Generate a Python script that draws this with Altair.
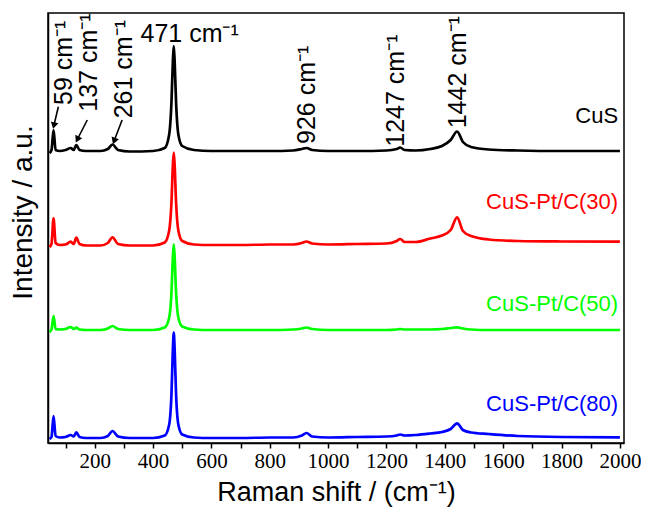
import altair as alt
import pandas as pd

# Raman shift knots (cm^-1)
X_KNOTS = [45, 52, 59, 66, 80, 100, 118, 128, 137, 148, 170, 220, 245, 261, 280, 320, 400,
           440, 455, 463, 468, 471, 474, 479, 487, 500, 540, 600, 700, 800, 880, 910, 926,
           945, 1000, 1100, 1200, 1235, 1247, 1262, 1300, 1350, 1390, 1420, 1442, 1462,
           1490, 1550, 1650, 1800, 2000]

# Intensities (a.u., stacked offsets included)
CUS = [290, 293, 313, 293, 292, 293, 295, 293, 298, 293, 292, 292, 294, 298.5, 293, 291.5, 292,
       295, 308, 340, 382, 397, 382, 340, 308, 297, 293, 292, 292, 292, 292.5, 294, 295,
       293, 292, 292, 292.5, 294, 295.5, 293, 292.5, 294, 297, 303, 311.5, 301,
       296, 293.5, 292.5, 292, 292]
CUS_PT30 = [196, 199, 224.7, 200, 198, 198.5, 201.3, 199, 205.3, 199, 197.5, 197.5, 200, 205.7, 199, 197.5, 197.5,
            200.5, 212, 240, 278, 290.3, 278, 240, 212, 202, 198.5, 198, 198, 198.5, 198.5, 200, 201.5,
            199.5, 198.5, 199, 199.5, 202, 204, 201, 201, 204.5, 207.5, 213, 225.7, 212,
            207, 203.5, 202, 201.5, 201.3]
CUS_PT50 = [111, 113.5, 127, 114, 113.5, 114, 116, 114, 115.3, 113.5, 113, 113, 114.5, 117, 114, 113, 113,
            115.5, 125, 150, 186, 198.7, 186, 150, 125, 116.5, 113.5, 113, 113, 113, 113.5, 114.5, 115.5,
            114, 113, 113, 113, 113.5, 114, 113.5, 113.5, 113.5, 114, 115, 115.7, 114.5,
            113.5, 113, 113, 113, 113]
CUS_PT80 = [4, 6, 27, 7, 5.5, 6, 8, 6.5, 10.7, 6, 5, 5, 7, 12, 6.5, 5, 5,
            7.5, 18, 48, 94, 110.3, 94, 48, 18, 8.5, 5.5, 5, 5, 5.5, 5.5, 7.5, 10,
            6.5, 5.5, 6, 6.5, 7.5, 8.5, 7.5, 8, 9.5, 11, 14, 19.7, 13,
            10.5, 9, 7, 6, 5.7]

SERIES = ["CuS", "CuS-Pt/C(30)", "CuS-Pt/C(50)", "CuS-Pt/C(80)"]
COLORS = ["#000000", "#ff0000", "#00ff00", "#0000ff"]
SERIES_VALUES = [CUS, CUS_PT30, CUS_PT50, CUS_PT80]

# x ticks
TICK_VALUES = list(range(100, 2001, 100))

# series label anchors
LABEL_X = [1994, 1994, 1994, 1994]
LABEL_Y = [320.3, 233.7, 132.3, 32]

# peak annotations (rotated)
PEAK_TEXT = ["59 cm⁻¹", "137 cm⁻¹", "261 cm⁻¹", "926 cm⁻¹", "1247 cm⁻¹", "1442 cm⁻¹"]
PEAK_X = [95, 180.4, 300, 928.6, 1232.7, 1444.5]
PEAK_Y = [338, 331.3, 324.7, 299, 296.3, 314.7]
# main peak annotation (horizontal)
MAIN_TEXT = ["471 cm⁻¹"]
MAIN_X = [357]
MAIN_Y = [401.3]

# arrows
ARROW_X = [75.5, 174.6, 294]
ARROW_Y = [336.3, 323, 323]
ARROW_X2 = [60.1, 140.4, 266.5]
ARROW_Y2 = [317.4, 303.5, 302.0]
ARROW_ANGLE = [192.8, 206.5, 200.4]

rows = []
for name, vals in zip(SERIES, SERIES_VALUES):
    for x, y in zip(X_KNOTS, vals):
        rows.append({"shift": x, "intensity": y, "series": name})
df = pd.DataFrame(rows)

labels_df = pd.DataFrame({"x": LABEL_X, "y": LABEL_Y, "text": SERIES, "series": SERIES})
peaks_df = pd.DataFrame({"x": PEAK_X, "y": PEAK_Y, "text": PEAK_TEXT})
main_df = pd.DataFrame({"x": MAIN_X, "y": MAIN_Y, "text": MAIN_TEXT})
arrows_df = pd.DataFrame({"x": ARROW_X, "y": ARROW_Y, "x2": ARROW_X2, "y2": ARROW_Y2,
                          "angle": ARROW_ANGLE})

SANS = "Liberation Sans"
xscale = alt.Scale(domain=[40, 2014], nice=False, zero=False)
yscale = alt.Scale(domain=[0, 430], nice=False, zero=False)
cscale = alt.Scale(domain=SERIES, range=COLORS)

xaxis = alt.Axis(
    values=TICK_VALUES,
    labelExpr="datum.value % 200 == 0 ? format(datum.value, 'd') : ''",
    labelOverlap=False,
    tickSize=5, tickColor="black", tickWidth=1.5,
    domainColor="black", domainWidth=1.5,
    labelFont="Liberation Serif", labelFontSize=21, labelColor="black", labelPadding=2,
    grid=False,
    title="Raman shift / (cm⁻¹)", titleFont=SANS, titleFontSize=27,
    titleFontWeight="normal", titleColor="black",
    titleY=57, titleBaseline="alphabetic",
)
yaxis = alt.Axis(
    labels=False, ticks=False, grid=False,
    domainColor="black", domainWidth=1.5,
    title="Intensity / a.u.", titleFont=SANS, titleFontSize=28,
    titleFontWeight="normal", titleColor="black",
    titleX=-25, titleY=199, titleAngle=270, titleAlign="center", titleBaseline="middle",
)


def X(field):
    return alt.X(field, type="quantitative", scale=xscale, axis=xaxis)


def Y(field):
    return alt.Y(field, type="quantitative", scale=yscale, axis=yaxis)


lines = alt.Chart(df).mark_line(strokeWidth=2.7, interpolate="monotone").encode(
    x=X("shift"),
    y=Y("intensity"),
    color=alt.Color("series:N", scale=cscale, legend=None),
)

series_labels = alt.Chart(labels_df).mark_text(
    align="right", baseline="alphabetic", font=SANS, fontSize=22
).encode(
    x=X("x"),
    y=Y("y"),
    text="text:N",
    color=alt.Color("series:N", scale=cscale, legend=None),
)

peak_labels = alt.Chart(peaks_df).mark_text(
    align="left", baseline="middle", angle=270, font=SANS, fontSize=25, color="black"
).encode(
    x=X("x"),
    y=Y("y"),
    text="text:N",
)

main_label = alt.Chart(main_df).mark_text(
    align="left", baseline="alphabetic", font=SANS, fontSize=25, color="black"
).encode(
    x=X("x"),
    y=Y("y"),
    text="text:N",
)

arrow_lines = alt.Chart(arrows_df).mark_rule(color="black", strokeWidth=1.6).encode(
    x=X("x"),
    y=Y("y"),
    x2="x2:Q",
    y2="y2:Q",
)

arrow_heads = alt.Chart(arrows_df).mark_point(
    shape="triangle-up", filled=True, color="black", size=60, opacity=1
).encode(
    x=X("x2"),
    y=Y("y2"),
    angle=alt.Angle("angle:Q", scale=None),
)

chart = alt.layer(
    lines, series_labels, peak_labels, main_label, arrow_lines, arrow_heads
).properties(
    width=576, height=430,
    autosize=alt.AutoSizeParams(type="none"),
    padding={"left": 40, "top": 5, "right": 17, "bottom": 65},
).configure_view(stroke="black", strokeWidth=1.5)

chart.save("out.html", embed_options={"renderer": "svg", "actions": False})
